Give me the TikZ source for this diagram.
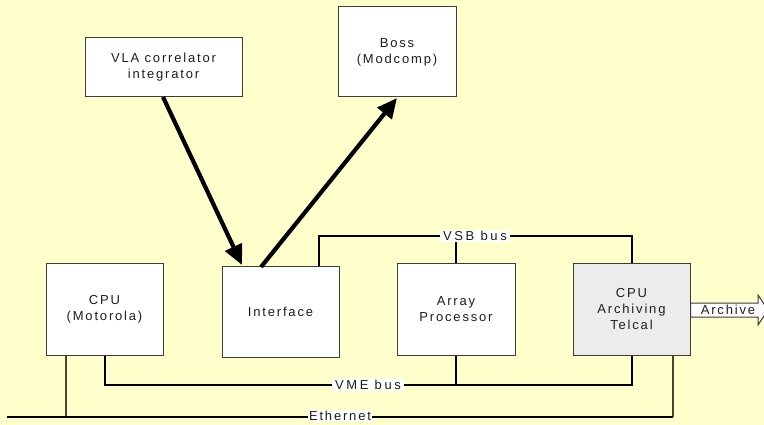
\documentclass[tikz,border=0pt]{standalone}
\usepackage{fontspec}
\setmainfont[LetterSpace=14]{Liberation Sans}
\usetikzlibrary{arrows.meta}
\definecolor{bgyellow}{RGB}{255,255,204}
\definecolor{boxline}{RGB}{60,60,60}
\definecolor{txt}{RGB}{30,30,30}
\definecolor{hatch}{RGB}{236,236,236}
\definecolor{ethline}{RGB}{70,70,50}
\tikzset{
  blk/.style={draw=boxline, line width=1pt, fill=white, align=center,
    inner sep=0pt, text=txt, font=\fontsize{13}{16}\selectfont},
  busthick/.style={line width=2.8pt, black},
  busthin/.style={line width=1.3pt, black},
  eththin/.style={line width=1.1pt, ethline},
  buslabel/.style={fill=white, inner sep=1.5pt, text=txt, font=\fontsize{13}{15}\selectfont},
  bigarrow/.style={line width=4.2pt, -{Triangle[length=20pt,width=18pt]}}
}
\begin{document}
\begin{tikzpicture}[x=1pt,y=-1pt]
\fill[bgyellow] (0,0) rectangle (764,425);
\useasboundingbox (0,0) rectangle (764,425);

% boxes
\node[blk, minimum width=157pt, minimum height=59pt] (vla) at (163.5,67.5) {VLA correlator\\integrator};
\node[blk, minimum width=118pt, minimum height=90pt] (boss) at (397,52) {Boss\\(Modcomp)};
\node[blk, minimum width=117pt, minimum height=91pt] (moto) at (104.5,309.5) {CPU\\(Motorola)};
\node[blk, minimum width=117pt, minimum height=90pt] (iface) at (280.5,312) {Interface};
\node[blk, minimum width=118pt, minimum height=91pt] (array) at (456,309.5) {Array\\Processor};
\node[blk, fill=hatch, minimum width=117pt, minimum height=91pt] (arch) at (631.5,309.5) {CPU\\Archiving\\Telcal};

% coordinates
\coordinate (vlaout) at (163,97);
\coordinate (ifin) at (242,265);
\coordinate (ifout) at (261,267);
\coordinate (bossin) at (397,98);
\coordinate (vsbL) at (319,236);
\coordinate (vsbM) at (456,236);
\coordinate (vsbR) at (632,236);
\coordinate (vmeL) at (105,385);
\coordinate (vmeM) at (456,385);
\coordinate (vmeR) at (632,385);
\coordinate (ethL) at (7,417);
\coordinate (ethA) at (66,417);
\coordinate (ethR) at (673,417);

% thick arrows
\draw[bigarrow] (vlaout) -- (ifin);
\draw[bigarrow] (ifout) -- (bossin);

% VSB bus
\draw[busthin] (iface.north -| vsbL) -- (vsbL) -- (vsbR) -- (arch.north -| vsbR);
\draw[busthin] (vsbM) -- (array.north);
\node[buslabel, inner xsep=3.5pt] (vsb) at (475,236) {\addfontfeatures{LetterSpace=20}VSB bus};

% VME bus
\draw[busthick] (moto.south -| vmeL) -- (vmeL) -- (vmeR) -- (arch.south -| vmeR);
\draw[busthick] (array.south) -- (vmeM);
\node[buslabel, inner xsep=3.5pt] (vme) at (368,385) {\addfontfeatures{LetterSpace=20}VME bus};

% Ethernet
\draw[eththin] (moto.south -| ethA) -- (ethA);
\draw[eththin] (arch.south -| ethR) -- (ethR);
\draw[line width=1.1pt, black] (ethL) -- (ethR);
\node[buslabel] (eth) at (340,416) {Ethernet};

% Archive arrow
\draw[line width=1pt, boxline, fill=white]
  (arch.east |- 0,303) -- (758,303) -- (758,295) -- (768,310) -- (758,325) -- (758,317) -- (arch.east |- 0,317) -- cycle;
\node[text=txt, font=\fontsize{13}{15}\selectfont, inner sep=0pt] (archive) at (728,310) {Archive};
\end{tikzpicture}
\end{document}
